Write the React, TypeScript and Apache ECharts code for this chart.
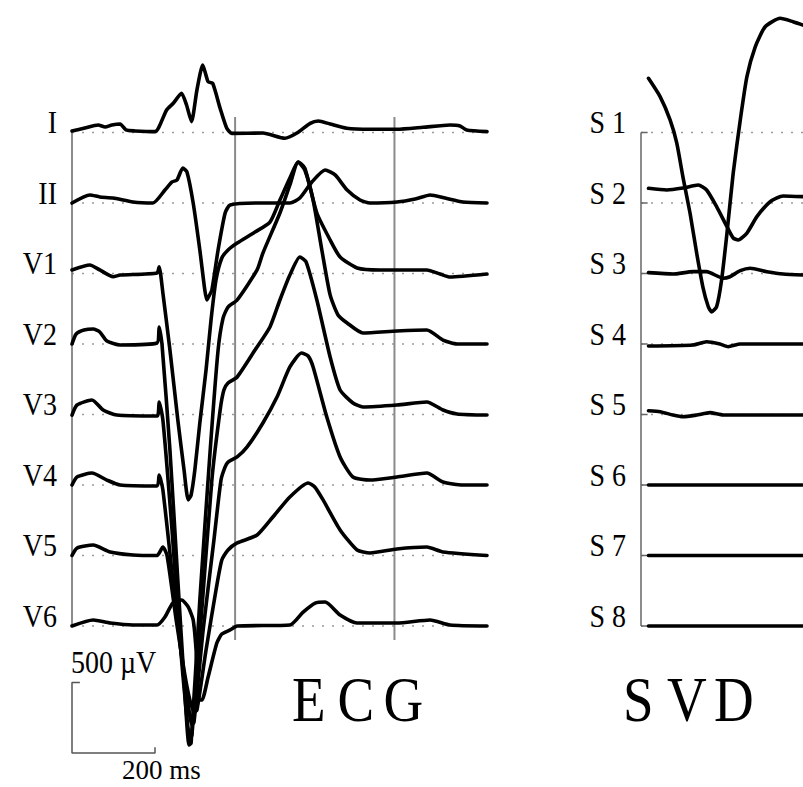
import React, { useEffect, useRef } from 'react';
import * as echarts from 'echarts';

// ---- layout constants ----
const LEAD_SPACING = 500; // µV between trace baselines
const ecgNames = ['I', 'II', 'V1', 'V2', 'V3', 'V4', 'V5', 'V6'];
const svdNames = ['S 1', 'S 2', 'S 3', 'S 4', 'S 5', 'S 6', 'S 7', 'S 8'];
const ecgTimeMax = 1000; // ms
const svdTimeMax = 390; // ms visible
const verticalMarks = [393, 777]; // ms
const scaleBarUV = 500;
const scaleBarMS = 200;

// ---- ECG leads: [time ms, amplitude µV] ----
const leadI: [number, number][] = [
  [0, 10], [31, 32], [63, 53], [80, 39], [96, 53], [116, 60], [130, 18], [152, 11], [200, 6],
  [228, 160], [244, 207], [264, 278], [276, 195], [288, 77], [301, 301], [315, 479], [328, 360],
  [339, 349], [357, 171], [373, 30], [385, -6], [460, -4], [513, -41], [542, -4], [574, 65],
  [594, 82], [622, 60], [662, 30], [718, 23], [783, 23], [846, 37], [911, 53], [935, 46],
  [951, 18], [1000, 6],
];
const leadII: [number, number][] = [
  [0, 0], [43, 57], [67, 43], [99, 35], [147, 7], [195, 0], [224, 92], [241, 149], [253, 163],
  [267, 248], [277, 220], [292, 0], [308, -333], [320, -617], [325, -688], [329, -667],
  [337, -617], [352, -333], [369, -71], [381, -14], [453, 0], [525, 0], [549, 35], [578, 149],
  [610, 234], [634, 199], [663, 92], [694, 21], [718, 0], [783, 7], [827, 28], [863, 57],
  [899, 35], [942, 7], [1000, 0],
];
const leadV1: [number, number][] = [
  [0, 25], [43, 60], [67, 25], [99, -23], [116, -11], [205, 4], [210, 48], [219, -138],
  [236, -543], [255, -1039], [270, -1394], [280, -1606], [287, -1571], [296, -1394],
  [308, -1060], [323, -684], [335, -330], [347, -46], [361, 110], [376, 167], [398, 216],
  [441, 294], [477, 365], [501, 521], [525, 677], [545, 791], [561, 748], [590, 429],
  [622, 238], [646, 117], [687, 39], [742, 25], [855, 25], [887, -4], [911, -25], [1000, -4],
];
const leadV2: [number, number][] = [
  [0, 0], [10, 71], [29, 99], [51, 106], [67, 85], [84, 21], [116, -7], [205, 7], [210, 121],
  [217, -7], [236, -752], [255, -1674], [270, -2383], [282, -2844], [287, -2830],
  [308, -1816], [333, -752], [352, -43], [364, 184], [376, 262], [398, 312], [446, 525],
  [460, 645], [501, 929], [525, 1128], [545, 1291], [561, 1234], [581, 1021], [602, 667],
  [622, 348], [641, 206], [663, 149], [701, 78], [783, 92], [855, 99], [894, 28], [928, 0],
  [1000, 0],
];
const leadV3: [number, number][] = [
  [0, -4], [12, 67], [48, 103], [75, 32], [108, -4], [205, -11], [210, 89], [219, -39],
  [241, -819], [260, -1599], [275, -2096], [284, -2294], [289, -2273], [311, -1457],
  [337, -465], [357, 32], [366, 174], [376, 223], [398, 266], [441, 457], [477, 621],
  [501, 812], [525, 989], [549, 1117], [564, 1082], [590, 812], [622, 408], [646, 174],
  [677, 82], [701, 53], [783, 67], [855, 89], [894, 32], [928, 4], [1000, -4],
];
const leadV4: [number, number][] = [
  [0, 0], [12, 57], [48, 85], [84, 35], [116, 0], [205, -7], [210, 71], [219, -35],
  [243, -674], [265, -1241], [280, -1560], [289, -1702], [294, -1681], [316, -1028],
  [342, -390], [359, 35], [369, 128], [376, 163], [398, 199], [422, 270], [460, 440],
  [494, 624], [525, 837], [553, 936], [569, 915], [581, 837], [614, 482], [646, 199],
  [677, 57], [718, 35], [783, 57], [855, 85], [894, 21], [942, 0], [1000, 0],
];
const leadV5: [number, number][] = [
  [0, 0], [12, 53], [51, 74], [92, 25], [147, 4], [205, 0], [219, 60], [229, 0], [251, -457],
  [272, -848], [284, -1025], [294, -1110], [301, -1096], [323, -670], [347, -245], [361, -32],
  [376, 39], [398, 89], [446, 145], [484, 273], [525, 415], [569, 514], [585, 486],
  [605, 394], [646, 181], [687, 39], [718, 18], [783, 46], [855, 60], [894, 25], [1000, 0],
];
const leadV6: [number, number][] = [
  [0, 0], [51, 43], [92, 21], [147, 7], [205, 7], [224, 64], [243, 163], [264, 184],
  [280, 135], [292, 43], [299, -170], [306, -525], [313, -525], [328, -362], [349, -121],
  [361, -57], [381, -28], [398, 0], [525, 7], [557, 99], [586, 163], [610, 170], [646, 78],
  [687, 21], [783, 21], [863, 43], [911, 7], [1000, 0],
];

// ---- SVD components: [time ms, amplitude µV] ----
const svd1: [number, number][] = [
  [18, 384], [46, 254], [70, 89], [86, -74], [101, -316], [118, -571], [134, -855],
  [149, -1096], [162, -1236], [170, -1272], [182, -1236], [194, -1046], [207, -713],
  [222, -287], [239, 89], [255, 396], [275, 608], [299, 750], [335, 810], [366, 786], [390, 762],
];
const svd2: [number, number][] = [
  [18, 104], [62, 92], [101, 106], [138, 128], [158, 92], [182, -26], [207, -168],
  [222, -248], [234, -262], [255, -213], [279, -97], [311, 9], [342, 50], [390, 45],
];
const svd3: [number, number][] = [
  [18, 6], [77, -4], [125, 13], [158, 13], [198, -34], [214, -23], [239, 20], [263, 37],
  [303, 13], [342, -4], [390, -11],
];
const svd4: [number, number][] = [
  [18, -14], [125, -7], [158, 16], [190, 0], [210, -19], [239, 0], [390, 0],
];
const svd5: [number, number][] = [
  [18, 27], [46, 20], [77, -4], [101, -16], [134, -4], [166, 13], [198, -4], [390, -4],
];
const svd6: [number, number][] = [[18, 0], [390, 0]];
const svd7: [number, number][] = [[18, 0], [390, 0]];
const svd8: [number, number][] = [[18, 0], [390, 0]];

const ecgLeads = [leadI, leadII, leadV1, leadV2, leadV3, leadV4, leadV5, leadV6];
const svdComps = [svd1, svd2, svd3, svd4, svd5, svd6, svd7, svd8];

const SERIF = '"Liberation Serif", "Times New Roman", serif';
const TRACE_W = 3.6;

function plainLine(data: number[][], grid: number, color: string, width: number, type: any = 'solid', z = 2) {
  return {
    type: 'line', xAxisIndex: grid, yAxisIndex: grid, data, showSymbol: false, symbol: 'none',
    silent: true, clip: false, z, lineStyle: { color, width, type, cap: 'butt' },
  };
}

export default function App() {
  const ref = useRef<HTMLDivElement>(null);
  useEffect(() => {
    if (!ref.current) return;
    const chart = echarts.init(ref.current, null, { renderer: 'svg' });
    const nLeads = ecgNames.length;
    const lastBase = -(nLeads - 1) * LEAD_SPACING;
    const series: any[] = [];

    // dotted baselines
    for (let i = 0; i < nLeads; i++) {
      const b = -i * LEAD_SPACING;
      series.push(plainLine([[0, b], [ecgTimeMax, b]], 0, '#9a9a9a', 1.5, [2, 8], 1));
      series.push(plainLine([[0, b], [svdTimeMax, b]], 1, '#9a9a9a', 1.5, [2, 8], 1));
      series.push(plainLine([[0, b], [16, b]], 1, '#666', 1.5, 'solid', 2));
    }
    // axes
    series.push(plainLine([[0, 0], [0, lastBase]], 0, '#666', 1.5));
    series.push(plainLine([[0, 0], [0, lastBase]], 1, '#666', 1.5));
    // vertical time marks
    verticalMarks.forEach((t) => {
      series.push(plainLine([[t, 110], [t, lastBase - 100]], 0, '#8a8a8a', 2));
    });
    // scale bar
    const sbTop = lastBase - 400;
    const sbBot = sbTop - scaleBarUV;
    series.push(plainLine([[19, sbTop], [0, sbTop], [0, sbBot], [scaleBarMS, sbBot], [scaleBarMS, sbBot + 40]], 0, '#555', 1.5));

    // traces
    ecgLeads.forEach((d, i) => {
      series.push({
        type: 'line', xAxisIndex: 0, yAxisIndex: 0, silent: true, clip: false, z: 5,
        showSymbol: false, symbol: 'none', smooth: 0.2,
        data: d.map(([t, v]) => [t, v - i * LEAD_SPACING]),
        lineStyle: { color: '#000', width: TRACE_W, join: 'round', cap: 'round' },
      });
    });
    svdComps.forEach((d, i) => {
      series.push({
        type: 'line', xAxisIndex: 1, yAxisIndex: 1, silent: true, clip: false, z: 5,
        showSymbol: false, symbol: 'none', smooth: 0.2,
        data: d.map(([t, v]) => [t, v - i * LEAD_SPACING]),
        lineStyle: { color: '#000', width: TRACE_W, join: 'round', cap: 'round' },
      });
    });

    const yAx = { type: 'value', min: -4500, max: 500, show: false };
    chart.setOption({
      animation: false,
      backgroundColor: '#ffffff',
      grid: [
        { left: 72, top: 62, width: 415, height: 705 },
        { left: 641, top: 62, width: 162, height: 705 },
      ],
      xAxis: [
        { gridIndex: 0, type: 'value', min: 0, max: ecgTimeMax, show: false },
        { gridIndex: 1, type: 'value', min: 0, max: svdTimeMax, show: false },
      ],
      yAxis: [
        { gridIndex: 0, ...yAx },
        { gridIndex: 1, ...yAx },
      ],
      series,
    });

    // texts positioned from the axes
    const graphic: any[] = [];
    const txt = (text: string, x: number, y: number, size: number, align: string, sy: number) => ({
      type: 'text', x, y, scaleY: sy, silent: true, z: 10,
      style: {
        text, fill: '#000', font: `${size}px ${SERIF}`,
        textAlign: align, align, textVerticalAlign: 'middle', verticalAlign: 'middle',
      },
    });
    ecgNames.forEach((n, i) => {
      const p = chart.convertToPixel({ gridIndex: 0 }, [0, -i * LEAD_SPACING]) as number[];
      graphic.push(txt(n, p[0] - 15, p[1] - 9.5, 28, 'right', 1.1));
    });
    svdNames.forEach((n, i) => {
      const p = chart.convertToPixel({ gridIndex: 1 }, [0, -i * LEAD_SPACING]) as number[];
      graphic.push(txt(n, p[0] - 15, p[1] - 9.5, 28, 'right', 1.1));
    });
    const pTop = chart.convertToPixel({ gridIndex: 0 }, [0, sbTop]) as number[];
    const pBot = chart.convertToPixel({ gridIndex: 0 }, [0, sbBot]) as number[];
    graphic.push(txt(`${scaleBarUV} µV`, pTop[0] - 1, pTop[1] - 20, 28, 'left', 1.1));
    graphic.push(txt(`${scaleBarMS} ms`, pBot[0] + 50, pBot[1] + 16, 27, 'left', 1.05));
    // panel titles
    const titleY = 699.5;
    [['E', 292], ['C', 337.5], ['G', 383.5], ['S', 623], ['V', 667], ['D', 714]].forEach(([c, x]) => {
      graphic.push(txt(c as string, x as number, titleY, 55, 'left', 1.17));
    });
    chart.setOption({ graphic });

    return () => chart.dispose();
  }, []);
  return (
    <div
      ref={ref}
      style={{ position: 'absolute', left: 0, top: 0, width: 803, height: 787, background: '#fff' }}
    />
  );
}
